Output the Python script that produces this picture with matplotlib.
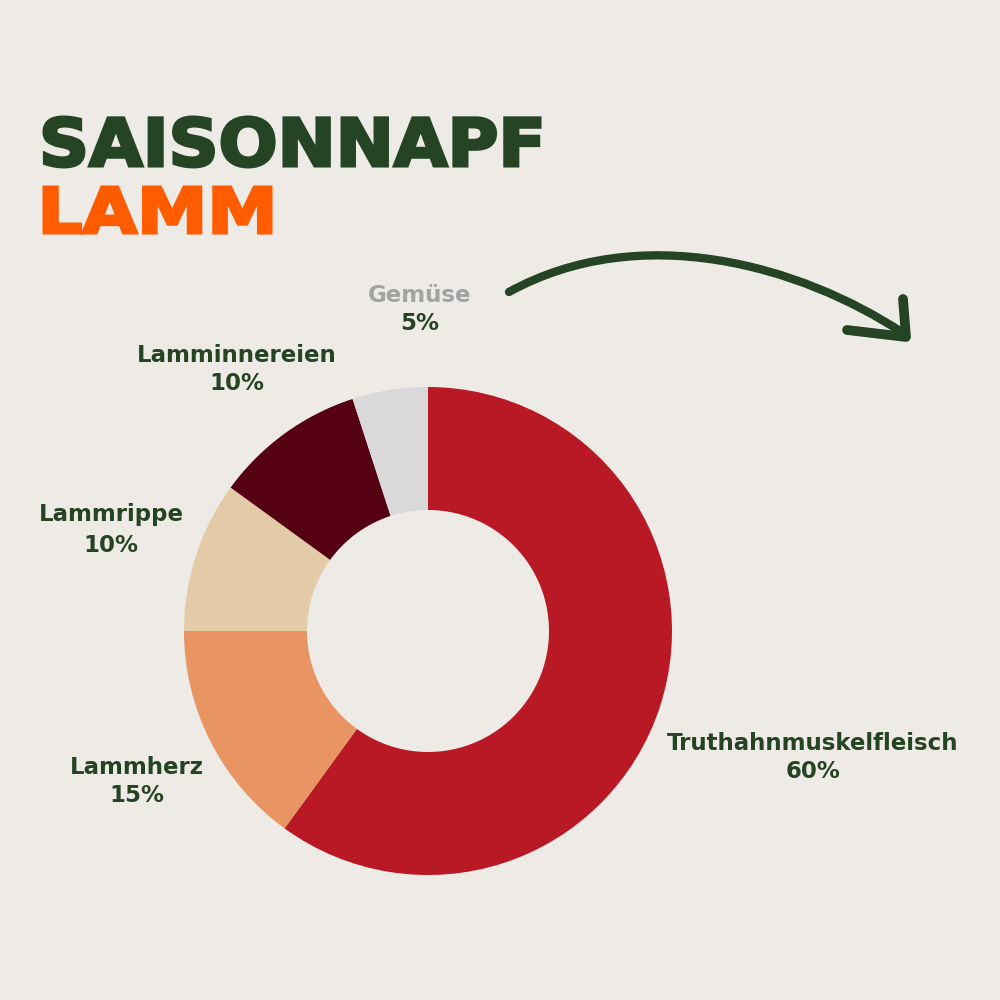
import numpy as np
import matplotlib.pyplot as plt
from matplotlib.path import Path
from matplotlib.patches import PathPatch
from matplotlib.textpath import TextPath
from matplotlib.font_manager import FontProperties
from matplotlib.transforms import Affine2D

# donut data, clockwise from the top
labels = ['Truthahnmuskelfleisch', 'Lammherz', 'Lammrippe', 'Lamminnereien', 'Gemüse']
shares = [60, 15, 10, 10, 5]
colours = ['#B91925', '#E89463', '#E3CBA8', '#560014', '#D9D9D9']

bg = '#EEEBE7'
green = '#254423'
orange = '#FF5C00'

fig = plt.figure(figsize=(10, 10), dpi=100, facecolor=bg)
ax = fig.add_axes([0, 0, 1, 1])
ax.set_xlim(0, 1000)
ax.set_ylim(0, 1000)
ax.set_aspect('equal')
ax.axis('off')

def Y(y):
    # picture rows -> axis coords
    return 1000 - y

ax.pie(shares, colors=colours, startangle=90, counterclock=False,
       center=(428, Y(631)), radius=244,
       wedgeprops=dict(width=123, linewidth=0))
ax.set_xlim(0, 1000)
ax.set_ylim(0, 1000)

# title, squeezed into the box it takes in the picture
title_fp = FontProperties(family='DejaVu Sans', weight='bold')

def boxed_text(s, x0, x1, ytop, ybase, colour):
    tp = TextPath((0, 0), s, size=100, prop=title_fp)
    ext = tp.get_extents()
    sx = (x1 - x0) / ext.width
    sy = (ybase - ytop) / ext.y1
    tr = Affine2D().translate(-ext.x0, 0).scale(sx, sy).translate(x0, Y(ybase))
    p = tr.transform_path(tp)
    ax.add_patch(PathPatch(p, facecolor=colour, edgecolor=colour, lw=2.2, joinstyle='miter'))

boxed_text('SAISONNAPF', 44, 540, 117, 166, green)
boxed_text('LAMM', 44, 271, 187, 233, orange)

# labels
lab_font = dict(fontsize=16.5, fontweight='bold', family='DejaVu Sans', ha='center', va='center')
label_pos = {
    'Truthahnmuskelfleisch': (813, 743, 772),
    'Lammherz': (137, 767, 796),
    'Lammrippe': (111, 514, 546),
    'Lamminnereien': (237, 356, 384),
    'Gemüse': (420, 295, 323),
}
for name, share in zip(labels, shares):
    x, y1, y2 = label_pos[name]
    c = '#A3A3A3' if name == 'Gemüse' else green
    ax.text(x, Y(y1), name, color=c, **lab_font)
    ax.text(x, Y(y2), f'{share}%', color=green, **lab_font)

# arrow
verts = [(509, Y(292)), (640, Y(220)), (800, Y(265)), (903, Y(333))]
curve = Path(verts, [Path.MOVETO, Path.CURVE4, Path.CURVE4, Path.CURVE4])
ax.add_patch(PathPatch(curve, fill=False, edgecolor=green, lw=6, capstyle='round'))
ax.plot([903, 906, 847], [Y(299), Y(337), Y(330)], color=green, lw=7,
        solid_capstyle='round', solid_joinstyle='round')

fig.savefig('out.png', dpi=100, facecolor=bg)
